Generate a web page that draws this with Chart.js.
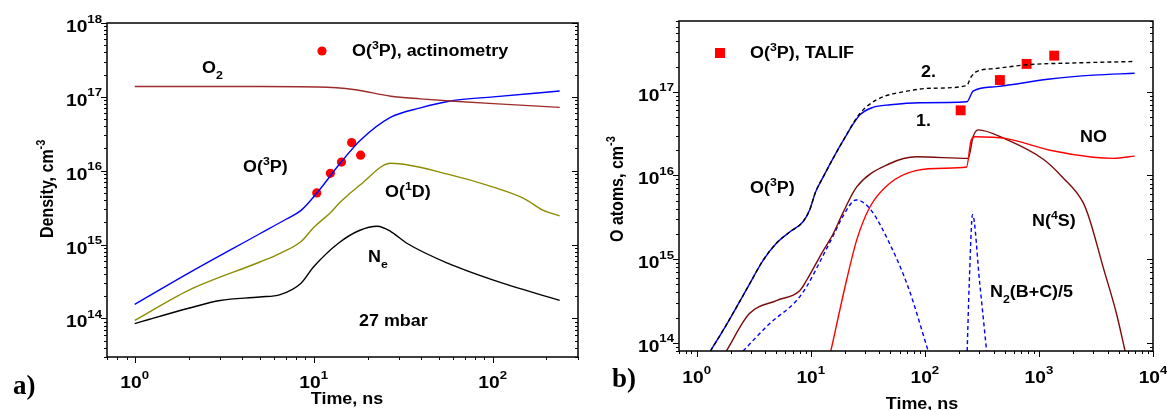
<!DOCTYPE html>
<html>
<head>
<meta charset="utf-8">
<script src="https://cdn.jsdelivr.net/npm/chart.js@4.4.1/dist/chart.umd.min.js"></script>
<style>
  html, body { margin: 0; padding: 0; background: #fff; }
  #wrap { position: relative; width: 1167px; height: 410px; overflow: hidden; }
  #wrap canvas { position: absolute; top: 0; }
</style>
</head>
<body>
<div id="wrap">
  <canvas id="chartA" width="590" height="410" style="left:0"></canvas>
  <canvas id="chartB" width="577" height="410" style="left:590px"></canvas>
</div>
<script>
// Panel a) : species densities at 27 mbar (time in ns, density in cm-3)
const timeO2 = [1, 5, 10.5, 16.7, 27, 39.5, 58, 101, 237];
const densO2 = [1.38e17, 1.38e17, 1.36e17, 1.26e17, 1.02e17, 9.4e16, 8.8e16, 8.1e16, 7.2e16];

const timeO3P = [1, 2, 5, 7, 8.5, 10.5, 14.1, 18.3, 27, 39.5, 58, 101, 237];
const densO3P = [1.55e14, 4.1e14, 1.4e15, 2.2e15, 2.9e15, 5.1e15, 1.27e16, 2.6e16, 5.3e16, 7.1e16, 8.8e16, 1.0e17, 1.2e17];

const timeO1D = [1, 2, 5, 6.5, 8.5, 10, 12.4, 14, 18.3, 27, 56, 101, 150, 192, 237];
const densO1D = [9.4e13, 2.4e14, 5.8e14, 7.6e14, 1.1e15, 1.7e15, 2.7e15, 3.7e15, 6.5e15, 1.26e16, 9e15, 6e15, 4.2e15, 2.9e15, 2.45e15];

const timeNe = [1, 2, 3, 5, 6.5, 8.5, 10, 13.8, 18, 22.7, 27, 33, 56, 101, 237];
const densNe = [8.5e13, 1.37e14, 1.75e14, 1.95e14, 2.1e14, 3e14, 5e14, 1.05e15, 1.55e15, 1.77e15, 1.5e15, 1.05e15, 5.6e14, 3.3e14, 1.75e14];

const timeAct = [10.4, 12.4, 14.3, 16.3, 18.3];
const densAct = [5.0e15, 9.2e15, 1.31e16, 2.4e16, 1.62e16];

// Panel b) : O atoms and nitrogen species
const timeCurve1 = [1.32, 1.8, 2.92, 3.82, 5.0, 6.5, 8.55, 9.8, 11, 12.8, 19.2, 27, 35, 50, 90, 234, 265, 425, 1250, 3000, 6900];
const densCurve1 = [8e13, 1.6e14, 5.1e14, 9.7e14, 1.55e15, 2.1e15, 2.8e15, 3.9e15, 6.3e15, 9.5e15, 2.6e16, 5.3e16, 6.5e16, 7.0e16, 7.4e16, 7.6e16, 1.02e17, 1.15e17, 1.42e17, 1.58e17, 1.66e17];

const timeCurve2 = [1.32, 1.8, 2.92, 3.82, 5.0, 6.5, 8.55, 9.8, 11, 12.8, 19.2, 27, 37.7, 74, 111, 232, 254, 284, 425, 780, 1860, 6900];
const densCurve2 = [8e13, 1.6e14, 5.1e14, 9.7e14, 1.55e15, 2.1e15, 2.8e15, 3.9e15, 6.3e15, 9.5e15, 2.6e16, 5.5e16, 8.0e16, 1.03e17, 1.1e17, 1.18e17, 1.5e17, 1.74e17, 1.9e17, 2.1e17, 2.2e17, 2.3e17];

const timeTalif = [206, 455, 780, 1362];
const densTalif = [6.0e16, 1.38e17, 2.15e17, 2.7e17];

const timeN4S = [1.82, 2.9, 5.0, 8.0, 9.2, 12.8, 15.7, 19, 25.3, 49, 85, 240, 265, 293, 500, 1100, 1600, 2450, 2800, 3650, 4800, 5690];
const densN4S = [8e13, 2.24e14, 3.2e14, 4.2e14, 5.6e14, 1.25e15, 2.0e15, 3.5e15, 7.3e15, 1.38e16, 1.67e16, 1.6e16, 2.9e16, 3.5e16, 2.75e16, 1.55e16, 9.6e15, 4.7e15, 2.9e15, 8.1e14, 2.2e14, 8e13];

const timeNO = [15, 20.6, 25.3, 33, 49, 85, 150, 232, 254, 275, 521, 1250, 3000, 4500, 6900];
const densNO = [8e13, 5.6e14, 1.7e15, 4.2e15, 8e15, 1.15e16, 1.22e16, 1.26e16, 2.6e16, 2.9e16, 2.75e16, 2.0e16, 1.65e16, 1.6e16, 1.7e16];

// N2(B+C)/5 : two separate pulses
const timeN2first = [2.55, 4.37, 7.5, 9.2, 12.8, 16, 19, 25, 33, 49, 72, 107];
const densN2first = [8e13, 1.7e14, 3.2e14, 4.7e14, 1.1e15, 2.0e15, 3.2e15, 5.1e15, 4e15, 1.55e15, 4.5e14, 8e13];
const timeN2second = [235, 245, 262, 303, 348];
const densN2second = [8e13, 5.1e14, 3.4e15, 5.1e14, 8e13];

const FONT = '"Liberation Sans", Arial, sans-serif';
const TEXT_STRETCH = 1.12;

function pts(t, n) {
    return t.map((x, i) => ({ x: x, y: n[i] }));
}

function curve(t, n, color, dashed) {
    return {
        data: pts(t, n),
        showLine: true,
        borderColor: color,
        borderWidth: 1.4,
        borderDash: dashed ? [4, 3] : [],
        pointRadius: 0,
        cubicInterpolationMode: 'monotone'
    };
}

function markers(t, n, style, radius) {
    return {
        data: pts(t, n),
        showLine: false,
        pointStyle: style,
        pointRadius: radius,
        pointBackgroundColor: '#ff0000',
        pointBorderWidth: 0
    };
}

// text with superscript / subscript pieces: [text, shiftY, fontSize]
function drawRich(ctx, x, y, parts, align, kx) {
    kx = kx || TEXT_STRETCH;
    const pieces = parts.map(p => {
        ctx.font = `bold ${p[2]}px ${FONT}`;
        return { text: p[0], dy: p[1], size: p[2], w: ctx.measureText(p[0]).width };
    });
    const total = pieces.reduce((s, p) => s + p.w, 0) * kx;
    const x0 = align === 'right' ? x - total : align === 'center' ? x - total / 2 : x;
    ctx.save();
    ctx.translate(x0, y);
    ctx.scale(kx, 1);
    ctx.textAlign = 'left';
    ctx.textBaseline = 'alphabetic';
    let cx = 0;
    pieces.forEach(p => {
        ctx.font = `bold ${p.size}px ${FONT}`;
        ctx.fillText(p.text, cx, p.dy);
        cx += p.w;
    });
    ctx.restore();
}

// rotated axis title, reading bottom to top
function drawTitleY(ctx, x, y, parts) {
    ctx.save();
    ctx.translate(x, y);
    ctx.rotate(-Math.PI / 2);
    ctx.scale(1, TEXT_STRETCH);
    drawRich(ctx, 0, 0, parts, 'left', 1);
    ctx.restore();
}

function logTicks(min, max) {
    const out = [];
    for (let e = Math.floor(Math.log10(min)); e <= Math.ceil(Math.log10(max)); e++) {
        for (let m = 1; m < 10; m++) {
            const v = m * Math.pow(10, e);
            if (v >= min * 0.999 && v <= max * 1.001) out.push([v, m === 1, e]);
        }
    }
    return out;
}

function powerLabel(ctx, x, y, exp, align) {
    drawRich(ctx, x, y, [['10', 0, 16], [String(exp), -9.5, 11]], align, 1.2);
}

// box, log ticks and all annotation text
function framePlugin(xLabelBase, drawLabels) {
    return {
        id: 'frame',
        afterDraw(chart) {
            const ctx = chart.ctx;
            const a = chart.chartArea;
            const sx = chart.scales.x;
            const sy = chart.scales.y;
            ctx.save();
            ctx.strokeStyle = '#000';
            ctx.fillStyle = '#000';
            ctx.lineWidth = 1.5;
            ctx.strokeRect(a.left, a.top, a.right - a.left, a.bottom - a.top);
            ctx.lineWidth = 1;
            ctx.beginPath();
            logTicks(sx.min, sx.max).forEach(([v, major]) => {
                const px = Math.round(sx.getPixelForValue(v)) + 0.5;
                ctx.moveTo(px, a.bottom);
                ctx.lineTo(px, a.bottom + (major ? 6 : 3));
            });
            logTicks(sy.min, sy.max).forEach(([v, major]) => {
                const py = Math.round(sy.getPixelForValue(v)) + 0.5;
                const len = major ? 6 : 3;
                ctx.moveTo(a.left - len, py);
                ctx.lineTo(a.left, py);
                ctx.moveTo(a.right - len, py);
                ctx.lineTo(a.right, py);
            });
            ctx.stroke();

            logTicks(sx.min, sx.max).filter(t => t[1]).forEach(([v, major, e]) => {
                powerLabel(ctx, sx.getPixelForValue(v), xLabelBase, e, 'center');
            });
            logTicks(sy.min, sy.max).filter(t => t[1]).forEach(([v, major, e]) => {
                powerLabel(ctx, a.left - 5, sy.getPixelForValue(v) + 9, e, 'right');
            });
            drawLabels(ctx, chart);
            ctx.restore();
        }
    };
}

function makeChart(id, datasets, xRange, yRange, box, drawLabels) {
    return new Chart(document.getElementById(id), {
        type: 'scatter',
        data: { datasets: datasets },
        options: {
            responsive: false,
            animation: false,
            events: [],
            layout: { padding: { top: box.top, right: box.right, left: 0, bottom: 0 } },
            plugins: { legend: { display: false }, tooltip: { enabled: false } },
            scales: {
                x: {
                    type: 'logarithmic', min: xRange[0], max: xRange[1],
                    grid: { display: false }, border: { display: false },
                    ticks: { display: false },
                    afterFit: s => { s.height = box.bottom; }
                },
                y: {
                    type: 'logarithmic', min: yRange[0], max: yRange[1],
                    grid: { display: false }, border: { display: false },
                    ticks: { display: false },
                    afterFit: s => { s.width = box.left; }
                }
            }
        },
        plugins: [framePlugin(box.labelBase, drawLabels)]
    });
}

// Panel a)
makeChart('chartA', [
    curve(timeO2, densO2, '#9e2b2b'),
    curve(timeO1D, densO1D, '#8c8c00'),
    curve(timeNe, densNe, '#000000'),
    curve(timeO3P, densO3P, '#0000ff'),
    markers(timeAct, densAct, 'circle', 4.6)
], [0.7, 300], [3e13, 1e18], { left: 107, right: 12, top: 23, bottom: 53, labelBase: 388 }, (ctx) => {
    drawRich(ctx, 202, 73, [['O', 0, 16], ['2', 6, 11]]);
    drawRich(ctx, 243, 172, [['O(', 0, 16], ['3', -7, 11], ['P)', 0, 16]]);
    drawRich(ctx, 385, 197, [['O(', 0, 16], ['1', -7, 11], ['D)', 0, 16]]);
    drawRich(ctx, 368, 262, [['N', 0, 16], ['e', 6, 11]]);
    drawRich(ctx, 359, 326, [['27 mbar', 0, 16]]);
    // legend
    ctx.fillStyle = '#ff0000';
    ctx.beginPath();
    ctx.arc(322, 51, 4.6, 0, Math.PI * 2);
    ctx.fill();
    ctx.fillStyle = '#000';
    drawRich(ctx, 352, 56, [['O(', 0, 16], ['3', -7, 11], ['P), actinometry', 0, 16]]);
    // axis titles
    drawRich(ctx, 347, 404, [['Time, ns', 0, 16]], 'center');
    drawTitleY(ctx, 53, 238, [['Density, cm', 0, 16], ['-3', -7, 11]]);
    ctx.font = 'bold 27px "Liberation Serif", "Times New Roman", serif';
    ctx.fillText('a)', 13, 394);
});

// Panel b)
makeChart('chartB', [
    curve(timeNO, densNO, '#ff0000'),
    curve(timeN4S, densN4S, '#7d0a0a'),
    curve(timeN2first, densN2first, '#0000ff', true),
    curve(timeN2second, densN2second, '#0000ff', true),
    curve(timeCurve2, densCurve2, '#000000', true),
    curve(timeCurve1, densCurve1, '#0000ff'),
    markers(timeTalif, densTalif, 'rect', 7)
], [0.7, 1e4], [8e13, 7e17], { left: 89, right: 14, top: 21, bottom: 59, labelBase: 383 }, (ctx) => {
    const ox = -590;
    drawRich(ctx, 750 + ox, 193, [['O(', 0, 16], ['3', -7, 11], ['P)', 0, 16]]);
    drawRich(ctx, 921 + ox, 77, [['2.', 0, 16]]);
    drawRich(ctx, 916 + ox, 126, [['1.', 0, 16]]);
    drawRich(ctx, 1080 + ox, 142, [['NO', 0, 16]]);
    drawRich(ctx, 1032 + ox, 226, [['N(', 0, 16], ['4', -7, 11], ['S)', 0, 16]]);
    drawRich(ctx, 990 + ox, 297, [['N', 0, 16], ['2', 6, 11], ['(B+C)/5', 0, 16]]);
    // legend
    ctx.fillStyle = '#ff0000';
    ctx.fillRect(715 + ox, 48, 10, 10);
    ctx.fillStyle = '#000';
    drawRich(ctx, 750 + ox, 58, [['O(', 0, 16], ['3', -7, 11], ['P), TALIF', 0, 16]]);
    // axis titles
    drawRich(ctx, 922 + ox, 409, [['Time, ns', 0, 16]], 'center');
    drawTitleY(ctx, 623 + ox, 242, [['O atoms, cm', 0, 16], ['-3', -7, 11]]);
    ctx.font = 'bold 27px "Liberation Serif", "Times New Roman", serif';
    ctx.fillText('b)', 612 + ox, 387);
});
</script>
</body>
</html>
